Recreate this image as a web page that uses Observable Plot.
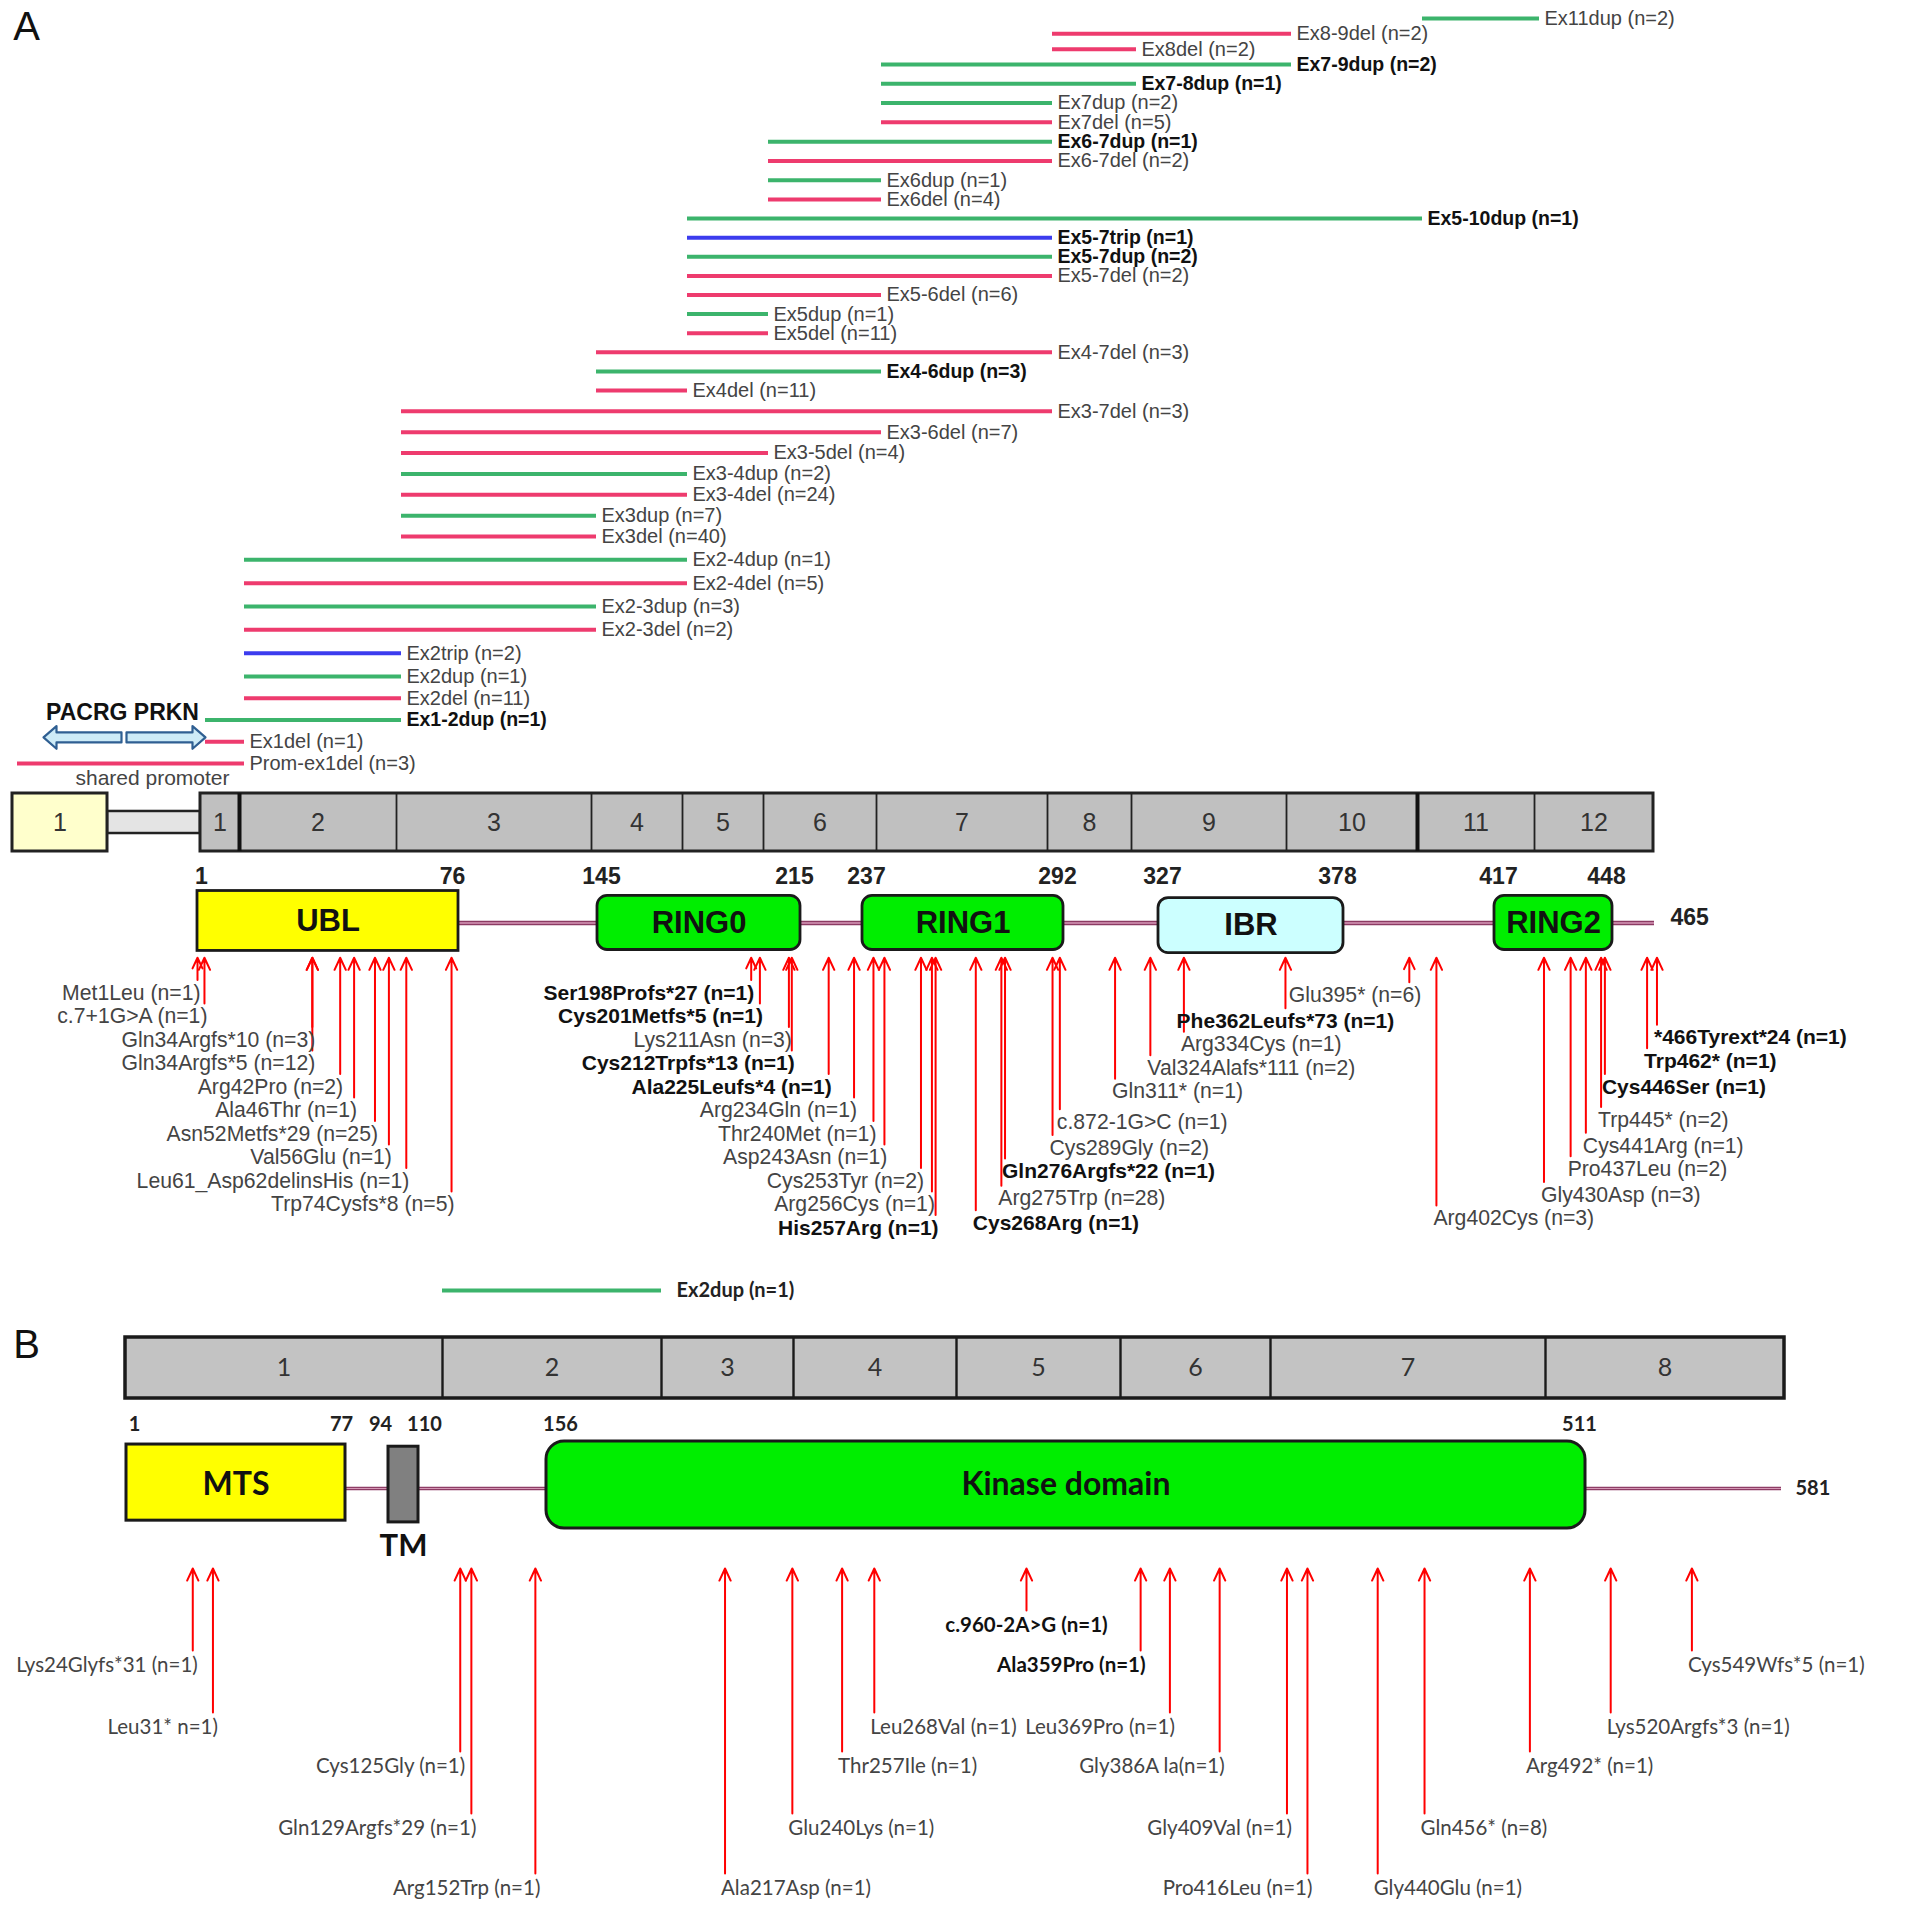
<!DOCTYPE html>
<html><head><meta charset="utf-8">
<script src="https://cdn.jsdelivr.net/npm/d3@7"></script>
<script src="https://cdn.jsdelivr.net/npm/@observablehq/plot@0.6"></script>
<style>
body{margin:0;background:#fff;}
#fig{position:relative;width:1920px;height:1914px;background:#fff;overflow:hidden;}
#fig svg{position:absolute;left:0;top:0;}
</style></head><body><div id="fig"></div>
<script>
// ================= DATA =================
// ---- Panel A: PRKN gene (segments in drawing order, relative lengths)
const prknSegLabels  = ["1", "", "1", "2", "3", "4", "5", "6", "7", "8", "9", "10", "11", "12"];
const prknSegKinds   = ["promoter", "intron", "exon", "exon", "exon", "exon", "exon", "exon", "exon", "exon", "exon", "exon", "exon", "exon"];
const prknSegLengths = [95, 93, 39, 157, 195, 91, 81, 113, 171, 84, 155, 131, 117, 119];
const prknThickBefore = ["2", "11"];

// ---- Panel A: copy number variants (top to bottom)
const prknCnvLabels = [
  "Ex11dup (n=2)", "Ex8-9del (n=2)", "Ex8del (n=2)", "Ex7-9dup (n=2)", "Ex7-8dup (n=1)",
  "Ex7dup (n=2)", "Ex7del (n=5)", "Ex6-7dup (n=1)", "Ex6-7del (n=2)", "Ex6dup (n=1)",
  "Ex6del (n=4)", "Ex5-10dup (n=1)", "Ex5-7trip (n=1)", "Ex5-7dup (n=2)", "Ex5-7del (n=2)",
  "Ex5-6del (n=6)", "Ex5dup (n=1)", "Ex5del (n=11)", "Ex4-7del (n=3)", "Ex4-6dup (n=3)",
  "Ex4del (n=11)", "Ex3-7del (n=3)", "Ex3-6del (n=7)", "Ex3-5del (n=4)", "Ex3-4dup (n=2)",
  "Ex3-4del (n=24)", "Ex3dup (n=7)", "Ex3del (n=40)", "Ex2-4dup (n=1)", "Ex2-4del (n=5)",
  "Ex2-3dup (n=3)", "Ex2-3del (n=2)", "Ex2trip (n=2)", "Ex2dup (n=1)", "Ex2del (n=11)",
  "Ex1-2dup (n=1)", "Ex1del (n=1)", "Prom-ex1del (n=3)"
];
const prknCnvBold = ["Ex7-9dup (n=2)", "Ex7-8dup (n=1)", "Ex6-7dup (n=1)", "Ex5-10dup (n=1)",
  "Ex5-7trip (n=1)", "Ex5-7dup (n=2)", "Ex4-6dup (n=3)", "Ex1-2dup (n=1)"];

// ---- Panel A: parkin protein
const prknDomainNames = ["UBL", "RING0", "RING1", "IBR", "RING2"];
const prknDomainStart = [1, 145, 237, 327, 417];
const prknDomainEnd   = [76, 215, 292, 378, 448];
const prknLength = 465;

const prknMutLabels = [
  "Met1Leu (n=1)", "c.7+1G>A (n=1)", "Gln34Argfs*10 (n=3)", "Gln34Argfs*5 (n=12)", "Arg42Pro (n=2)",
  "Ala46Thr (n=1)", "Asn52Metfs*29 (n=25)", "Val56Glu (n=1)", "Leu61_Asp62delinsHis (n=1)", "Trp74Cysfs*8 (n=5)",
  "Ser198Profs*27 (n=1)", "Cys201Metfs*5 (n=1)", "Lys211Asn (n=3)", "Cys212Trpfs*13 (n=1)", "Ala225Leufs*4 (n=1)",
  "Arg234Gln (n=1)", "Thr240Met (n=1)", "Asp243Asn (n=1)", "Cys253Tyr (n=2)", "Arg256Cys (n=1)", "His257Arg (n=1)",
  "Cys268Arg (n=1)", "Arg275Trp (n=28)", "Gln276Argfs*22 (n=1)", "Cys289Gly (n=2)", "c.872-1G>C (n=1)",
  "Gln311* (n=1)", "Val324Alafs*111 (n=2)", "Arg334Cys (n=1)", "Phe362Leufs*73 (n=1)", "Glu395* (n=6)",
  "Arg402Cys (n=3)", "Gly430Asp (n=3)", "Pro437Leu (n=2)", "Cys441Arg (n=1)", "Trp445* (n=2)",
  "Cys446Ser (n=1)", "Trp462* (n=1)", "*466Tyrext*24 (n=1)"
];
const prknMutResidue = [1, 3, 34, 34, 42, 46, 52, 56, 61, 74,
  198, 201, 211, 212, 225, 234, 240, 243, 253, 256, 257,
  268, 275, 276, 289, 291, 311, 324, 334, 362, 395,
  402, 430, 437, 441, 445, 446, 462, 466];
const prknMutLevel = [0, 1, 2, 3, 4, 5, 6, 7, 8, 9,
  0, 1, 2, 3, 4, 5, 6, 7, 8, 9, 10,
  9.8, 8.75, 7.6, 6.6, 5.5, 4.2, 3.2, 2.2, 1.2, 0.1,
  9.6, 8.6, 7.5, 6.5, 5.4, 4, 2.9, 1.9];
const prknMutSide = [
  "end", "end", "end", "end", "end", "end", "end", "end", "end", "end",
  "end", "end", "end", "end", "end", "end", "end", "end", "end", "end", "end",
  "start", "start", "start", "start", "start", "start", "start", "start", "middle", "end",
  "start", "start", "start", "start", "start", "start", "start", "start"];
const prknMutBold = ["Ser198Profs*27 (n=1)", "Cys201Metfs*5 (n=1)", "Cys212Trpfs*13 (n=1)", "Ala225Leufs*4 (n=1)",
  "His257Arg (n=1)", "Cys268Arg (n=1)", "Gln276Argfs*22 (n=1)", "Phe362Leufs*73 (n=1)",
  "Cys446Ser (n=1)", "Trp462* (n=1)", "*466Tyrext*24 (n=1)"];

// ---- Panel B: PINK1 gene
const pink1ExonLabels  = ["1", "2", "3", "4", "5", "6", "7", "8"];
const pink1ExonLengths = [317, 219, 132, 163, 164, 150, 275, 239];
const pink1CnvLabels = ["Ex2dup (n=1)"];

// ---- Panel B: PINK1 protein
const pink1DomainNames = ["MTS", "TM", "Kinase domain"];
const pink1DomainStart = [1, 94, 156];
const pink1DomainEnd   = [77, 110, 511];
const pink1Length = 581;

const pink1MutLabels = [
  "Lys24Glyfs*31 (n=1)", "Leu31* n=1)", "Cys125Gly (n=1)", "Gln129Argfs*29 (n=1)", "Arg152Trp (n=1)",
  "Ala217Asp (n=1)", "Glu240Lys (n=1)", "Thr257Ile (n=1)", "Leu268Val (n=1)", "c.960-2A>G (n=1)",
  "Ala359Pro (n=1)", "Leu369Pro (n=1)", "Gly386A la(n=1)", "Gly409Val (n=1)", "Pro416Leu (n=1)",
  "Gly440Glu (n=1)", "Gln456* (n=8)", "Arg492* (n=1)", "Lys520Argfs*3 (n=1)", "Cys549Wfs*5 (n=1)"
];
const pink1MutResidue = [24, 31, 125, 129, 152, 217, 240, 257, 268, 320, 359, 369, 386, 409, 416, 440, 456, 492, 520, 549];
const pink1MutLevel   = [1, 2, 3, 4, 5, 5, 4, 3, 2, 0, 1, 2, 3, 4, 5, 5, 4, 3, 2, 1];
const pink1MutSide = ["end", "end", "end", "end", "end", "start", "start", "start", "start", "middle",
  "end", "end", "end", "end", "end", "start", "start", "start", "start", "start"];
const pink1MutBold = ["c.960-2A>G (n=1)", "Ala359Pro (n=1)"];

// ================= STYLE / LAYOUT =================
const FONT_A = "'Liberation Sans', Arial, Helvetica, sans-serif";
const FONT_B = "Lato, 'Open Sans', 'Liberation Sans', sans-serif";
const CNV_COLOR = {del: "#ee3b6e", dup: "#3cb46c", trip: "#3c3cee"};
const LABEL_NUDGE = {"Glu395* (n=6)": 9};   // extra horizontal offset (px) for crowded labels
const DOMAIN_STYLE = {
  UBL:   {fill: "#ffff00", rx: 0, y1: -4.34, y2: -1.79},
  RING0: {fill: "#00ee00", rx: 10, y1: -4.13, y2: -1.83},
  RING1: {fill: "#00ee00", rx: 10, y1: -4.13, y2: -1.83},
  IBR:   {fill: "#ccffff", rx: 10, y1: -4.04, y2: -1.70},
  RING2: {fill: "#00ee00", rx: 10, y1: -4.13, y2: -1.83},
  "MTS": {fill: "#ffff00", rx: 0, y1: 0.035, y2: 0.91},
  "TM":  {fill: "#808080", rx: 0, y1: 0.06, y2: 0.93},
  "Kinase domain": {fill: "#00ee00", rx: 18, y1: 0, y2: 1}
};
const W = 1920, H = 1914;
const fig = document.getElementById("fig");
function layer(opts) {
  const svg = Plot.plot({width: W, height: H, margin: 0,
    style: {background: "transparent", overflow: "visible", fontFamily: FONT_A}, ...opts});
  fig.appendChild(svg);
}
// a position scale whose value→page mapping is piecewise linear through the given knots
function pieceScale(knots, pagePx, page) {
  const f = d3.scaleLinear().domain(knots).range(pagePx);
  return {type: "linear", domain: [0, page], range: [0, page], transform: v => f(v), axis: null};
}
function cumulate(lengths) { const c = [0]; lengths.forEach(l => c.push(c[c.length - 1] + l)); return c; }

// ---- gene segments
const prknCum = cumulate(prknSegLengths);
const prknTotal = prknCum[prknCum.length - 1];
const prknSegs = prknSegLabels.map((label, i) => ({label, kind: prknSegKinds[i], x1: prknCum[i], x2: prknCum[i + 1]}));
const prknSeg = t => t === "P" ? prknSegs.find(s => s.kind === "promoter") : prknSegs.find(s => s.kind === "exon" && s.label === t);

const pink1Cum = cumulate(pink1ExonLengths);
const pink1Total = pink1Cum[pink1Cum.length - 1];
const pink1Segs = pink1ExonLabels.map((label, i) => ({label, kind: "exon", x1: pink1Cum[i], x2: pink1Cum[i + 1]}));
const pink1Seg = t => pink1Segs.find(s => s.label === t);

function parseCnv(label, segFn) {
  const m = label.match(/^(Prom-ex|Ex)(\d+)(?:-(\d+))?(del|dup|trip)/);
  const a = segFn(m[1] === "Prom-ex" ? "P" : m[2]);
  const b = segFn(m[3] || m[2]);
  return {x1: a.x1, x2: b.x2, type: m[4]};
}
const prknCnv = prknCnvLabels.map((label, i) => ({label, row: i, bold: prknCnvBold.includes(label), ...parseCnv(label, prknSeg)}));
const pink1Cnv = pink1CnvLabels.map((label) => ({label, row: -0.77, bold: true, ...parseCnv(label, pink1Seg)}));

function blockArrow(name, tail, tip, yc, bodyHalf, headHalf, headLen) {
  const hb = tip - Math.sign(tip - tail) * headLen;
  return [[tail, yc - bodyHalf], [hb, yc - bodyHalf], [hb, yc - headHalf], [tip, yc], [hb, yc + headHalf],
          [hb, yc + bodyHalf], [tail, yc + bodyHalf], [tail, yc - bodyHalf]].map(([x, y]) => ({name, x, y}));
}

// ================= PANEL A: CNV lines =================
layer({
  x: {domain: [0, prknTotal], range: [17, 17 + prknTotal], axis: null},
  y: pieceScale([0, 3, 10, 20, 27, 33, 37], [18, 64, 199, 390, 536, 676, 763], H),
  color: {type: "identity"},
  marks: [
    Plot.ruleY(prknCnv, {y: "row", x1: "x1", x2: "x2", stroke: d => CNV_COLOR[d.type], strokeWidth: 4}),
    Plot.text(prknCnv.filter(d => !d.bold), {x: "x2", y: "row", text: "label", textAnchor: "start", dx: 5,
      fontSize: 20, fill: "#444", fontFamily: FONT_A}),
    Plot.text(prknCnv.filter(d => d.bold), {x: "x2", y: "row", text: "label", textAnchor: "start", dx: 5,
      fontSize: 19.5, fontWeight: "bold", fill: "#111", fontFamily: FONT_A}),
    Plot.line([...blockArrow("PACRG", 104, 26, 35.8, 0.23, 0.52, 13), ...blockArrow("PRKN", 109, 188, 35.8, 0.23, 0.52, 13)],
      {x: "x", y: "y", z: "name", fill: "#cdebf7", stroke: "#2f5f92", strokeWidth: 2.2}),
    Plot.text(["PACRG PRKN"], {x: () => 105, y: () => 34.66, text: d => d, fontSize: 23, fontWeight: "bold", fill: "#111", fontFamily: FONT_A}),
    Plot.text(["shared promoter"], {x: () => 135, y: () => 37.7, text: d => d, fontSize: 21, fill: "#444", fontFamily: FONT_A}),
    Plot.text(["A"], {x: () => 9, y: () => 0.55, text: d => d, fontSize: 40, fill: "#111", fontFamily: FONT_A})
  ]
});

// ================= PANEL A: gene structure =================
const prknExons = prknSegs.filter(s => s.kind === "exon");
const prknBlock = [{x1: prknExons[0].x1, x2: prknExons[prknExons.length - 1].x2}];
const prknSeps = prknExons.slice(1).map(s => ({x: s.x1, thick: prknThickBefore.includes(s.label)}));
layer({
  x: {domain: [0, prknTotal], range: [12, 12 + prknTotal], axis: null},
  y: {domain: [0, 1], range: [793, 851], axis: null},
  marks: [
    Plot.rect(prknSegs.filter(s => s.kind === "intron"), {x1: "x1", x2: "x2", y1: 0.31, y2: 0.69, fill: "#e4e4e4", stroke: "#222", strokeWidth: 2.5}),
    Plot.rect(prknSegs.filter(s => s.kind === "promoter"), {x1: "x1", x2: "x2", y1: 0, y2: 1, fill: "#ffffcc", stroke: "#222", strokeWidth: 3}),
    Plot.rect(prknBlock, {x1: "x1", x2: "x2", y1: 0, y2: 1, fill: "#c0c0c0", stroke: "#222", strokeWidth: 3}),
    Plot.ruleX(prknSeps.filter(d => !d.thick), {x: "x", y1: 0, y2: 1, stroke: "#222", strokeWidth: 1.8}),
    Plot.ruleX(prknSeps.filter(d => d.thick), {x: "x", y1: 0, y2: 1, stroke: "#111", strokeWidth: 4}),
    Plot.text(prknSegs.filter(s => s.kind !== "intron"), {x: d => (d.x1 + d.x2) / 2, y: 0.5, text: "label",
      fontSize: 25, fill: "#333", fontFamily: FONT_A})
  ]
});

// ================= PANEL A: parkin protein =================
const prknDomains = prknDomainNames.map((name, i) => ({name, start: prknDomainStart[i], end: prknDomainEnd[i], ...DOMAIN_STYLE[name]}));
const prknKnots = [...new Set([...prknDomainStart, ...prknDomainEnd, prknLength])].sort((a, b) => a - b);
const prknKnotPx = [197, 458, 597, 800, 862, 1063, 1158, 1343, 1494, 1612, 1654];
const prknMuts = prknMutLabels.map((label, i) => ({label, pos: prknMutResidue[i], row: prknMutLevel[i],
  side: prknMutSide[i], bold: prknMutBold.includes(label)}));
const A_ROW = {number: -4.95, line: -2.98, tip: -1.5};

function mutationMarks(muts, tip, inset, font, size, boldSize, dxMap) {
  const marks = [Plot.arrow(muts, {x1: "pos", x2: "pos", y1: "row", y2: () => tip, insetStart: inset,
    stroke: "#ff0000", strokeWidth: 2, headLength: 10, headAngle: 50})];
  const groups = d3.groups(muts, d => d.side, d => d.bold, d => LABEL_NUDGE[d.label] || 0);
  for (const [side, byBold] of groups) for (const [bold, byNudge] of byBold) for (const [nudge, items] of byNudge) {
    marks.push(Plot.text(items, {x: "pos", y: "row", text: "label",
      textAnchor: side, dx: dxMap[side] + nudge, fontSize: bold ? boldSize : size, fontWeight: bold ? "bold" : "normal",
      fill: bold ? "#111" : "#444", fontFamily: font}));
  }
  return marks;
}

layer({
  x: pieceScale(prknKnots, prknKnotPx, W),
  y: {domain: [-5, 10], range: [875, 1227.5], axis: null},
  marks: [
    Plot.ruleY([A_ROW.line], {x1: () => prknDomainEnd[0], x2: () => prknLength, stroke: "#8c3b63", strokeWidth: 4.5}),
    Plot.ruleY([A_ROW.line], {x1: () => prknDomainEnd[0], x2: () => prknLength, stroke: "#d79ab8", strokeWidth: 1.4}),
    ...prknDomains.map(d => Plot.rect([d], {x1: "start", x2: "end", y1: "y1", y2: "y2", fill: d.fill, rx: d.rx,
      stroke: "#1a1a1a", strokeWidth: 2.8})),
    Plot.text(prknDomains, {x: d => (d.start + d.end) / 2, y: d => (d.y1 + d.y2) / 2, text: "name",
      fontSize: 31, fontWeight: "bold", fill: "#111", fontFamily: FONT_A}),
    Plot.text(prknDomains, {x: "start", y: () => A_ROW.number, text: d => String(d.start), dx: 4,
      fontSize: 23, fontWeight: "bold", fill: "#222", fontFamily: FONT_A}),
    Plot.text(prknDomains, {x: "end", y: () => A_ROW.number, text: d => String(d.end), dx: -6,
      fontSize: 23, fontWeight: "bold", fill: "#222", fontFamily: FONT_A}),
    Plot.text([prknLength], {x: d => d, y: () => -3.19, text: d => String(d), textAnchor: "start", dx: 16,
      fontSize: 23, fontWeight: "bold", fill: "#222", fontFamily: FONT_A}),
    ...mutationMarks(prknMuts, A_ROW.tip, 13, FONT_A, 21.2, 21, {start: -3, end: 3, middle: 0})
  ]
});

// ================= PANEL B: gene structure + CNV =================
const pink1Block = [{x1: 0, x2: pink1Total}];
const pink1Seps = pink1Segs.slice(1).map(s => ({x: s.x1}));
layer({
  x: {domain: [0, pink1Total], range: [125, 125 + pink1Total], axis: null},
  y: {domain: [0, 1], range: [1337, 1398], axis: null},
  color: {type: "identity"},
  marks: [
    Plot.ruleY(pink1Cnv, {y: "row", x1: "x1", x2: "x2", stroke: d => CNV_COLOR[d.type], strokeWidth: 4}),
    Plot.text(pink1Cnv, {x: "x2", y: "row", text: "label", textAnchor: "start", dx: 15, fontSize: 20,
      fontWeight: "bold", fill: "#222", fontFamily: FONT_B}),
    Plot.rect(pink1Block, {x1: "x1", x2: "x2", y1: 0, y2: 1, fill: "#c3c3c3", stroke: "#1a1a1a", strokeWidth: 3.5}),
    Plot.ruleX(pink1Seps, {x: "x", y1: 0, y2: 1, stroke: "#1a1a1a", strokeWidth: 2.4}),
    Plot.text(pink1Segs, {x: d => (d.x1 + d.x2) / 2, y: 0.5, text: "label", fontSize: 25, fill: "#333", fontFamily: FONT_B}),
    Plot.text(["B"], {x: () => -99, y: () => 0.13, text: d => d, fontSize: 40, fill: "#111", fontFamily: FONT_A})
  ]
});

// ================= PANEL B: PINK1 protein =================
const pink1Domains = pink1DomainNames.map((name, i) => ({name, start: pink1DomainStart[i], end: pink1DomainEnd[i], ...DOMAIN_STYLE[name]}));
const pink1Knots = [...new Set([...pink1DomainStart, ...pink1DomainEnd, pink1Length])].sort((a, b) => a - b);
const pink1KnotPx = [126, 345, 388, 418, 546, 1585, 1781];
const B_ROW = {number: -0.2, line: 0.54, tmLabel: 1.2};
const numberDx = {MTS: [8, -4], TM: [-8, 6], "Kinase domain": [14, -6]};
layer({
  x: pieceScale(pink1Knots, pink1KnotPx, W),
  y: {domain: [0, 1], range: [1441, 1528], axis: null},
  marks: [
    Plot.ruleY([B_ROW.line], {x1: () => pink1DomainEnd[0], x2: () => pink1Length, stroke: "#8c3b63", strokeWidth: 3.5}),
    Plot.ruleY([B_ROW.line], {x1: () => pink1DomainEnd[0], x2: () => pink1Length, stroke: "#d79ab8", strokeWidth: 1}),
    ...pink1Domains.map(d => Plot.rect([d], {x1: "start", x2: "end", y1: "y1", y2: "y2", fill: d.fill, rx: d.rx,
      stroke: "#1a1a1a", strokeWidth: 3})),
    Plot.text(pink1Domains.filter(d => d.name !== "TM"), {x: d => (d.start + d.end) / 2, y: () => 0.5, text: "name",
      fontSize: 32, fontWeight: "bold", fill: "#111", fontFamily: FONT_B}),
    Plot.text(pink1Domains.filter(d => d.name === "TM"), {x: d => (d.start + d.end) / 2, y: () => B_ROW.tmLabel, text: "name",
      fontSize: 31, fontWeight: "bold", fill: "#111", fontFamily: FONT_B}),
    ...pink1Domains.flatMap(d => [
      Plot.text([d], {x: "start", y: () => B_ROW.number, text: x => String(x.start), dx: numberDx[d.name][0],
        fontSize: 20, fontWeight: "bold", fill: "#222", fontFamily: FONT_B}),
      Plot.text([d], {x: "end", y: () => B_ROW.number, text: x => String(x.end), dx: numberDx[d.name][1],
        fontSize: 20, fontWeight: "bold", fill: "#222", fontFamily: FONT_B})
    ]),
    Plot.text([pink1Length], {x: d => d, y: () => B_ROW.line, text: d => String(d), textAnchor: "start", dx: 14,
      fontSize: 20, fontWeight: "bold", fill: "#222", fontFamily: FONT_B})
  ]
});

// ================= PANEL B: PINK1 mutations =================
const pink1Muts = pink1MutLabels.map((label, i) => ({label, pos: pink1MutResidue[i], row: pink1MutLevel[i],
  side: pink1MutSide[i], bold: pink1MutBold.includes(label)}));
layer({
  x: pieceScale(pink1Knots, pink1KnotPx, W),
  y: pieceScale([-1, 0, 1, 2, 3, 4, 5], [1568, 1625, 1665, 1727, 1766, 1828, 1888], H),
  marks: mutationMarks(pink1Muts, -1, 15, FONT_B, 20.5, 20.5, {start: -4, end: 5, middle: 0})
});
</script>
</body></html>
